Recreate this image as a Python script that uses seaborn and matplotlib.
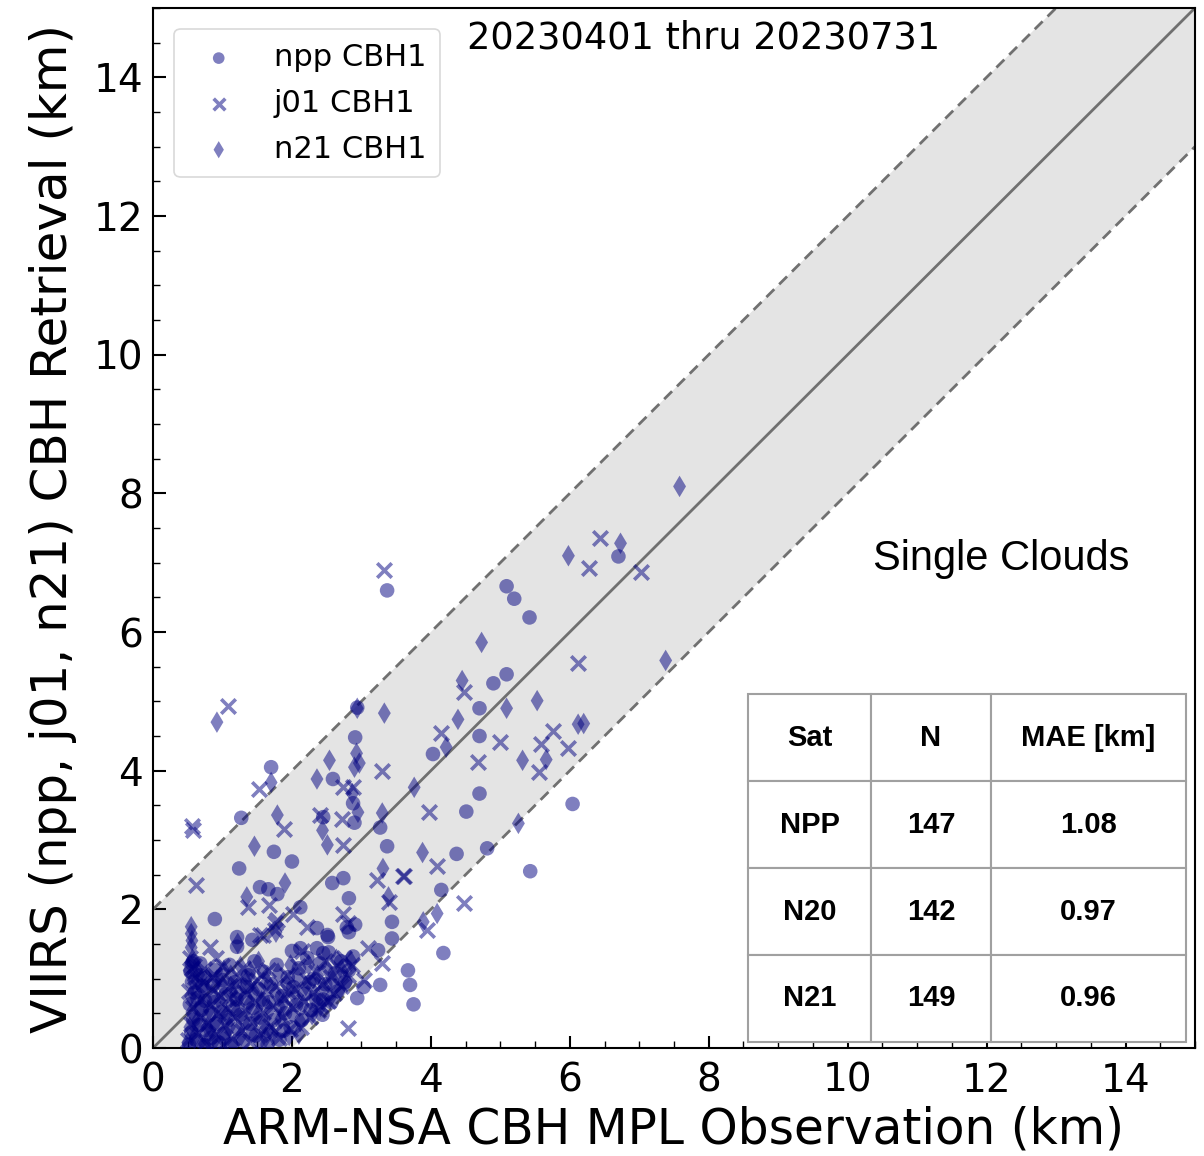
import numpy as np
import pandas as pd
import matplotlib
matplotlib.use("Agg")
import matplotlib.pyplot as plt
import seaborn as sns

# ---------------- data (km) ----------------
npp_x = [3.37, 5.09, 5.20, 5.42, 6.70, 4.90, 5.09, 4.70, 4.03, 4.70, 4.70, 4.51, 6.04, 3.37, 4.37,
         4.81, 5.43, 4.15, 3.27, 2.94, 2.91, 1.70, 1.27, 2.59, 2.88, 2.45, 2.90, 1.74, 2.00, 1.24,
         1.54, 1.66, 1.79, 2.12, 0.89, 2.58, 2.74, 2.82, 3.44, 3.44, 2.79, 2.91, 2.82, 2.36, 2.51,
         1.43, 1.21, 0.56, 0.68, 1.21, 2.52, 2.12, 2.36, 2.45, 3.24, 3.67, 3.70, 3.75, 4.18, 3.27,
         2.94, 3.03,
         0.52, 0.55, 0.58, 0.53, 0.60, 0.56, 0.62, 0.66, 0.70, 0.64, 0.73, 0.77, 0.71, 0.80, 0.84,
         0.88, 0.92, 0.95, 0.98, 1.02, 1.05, 1.08, 1.12, 1.15, 1.18, 1.22, 1.26, 1.30, 1.33, 1.37,
         1.40, 1.44, 1.48, 1.52, 1.55, 1.60, 1.63, 1.67, 1.70, 1.74, 1.78, 1.82, 1.86, 1.90, 1.94,
         1.98, 2.02, 2.06, 2.10, 2.14, 2.18, 2.22, 2.27, 2.31, 2.35, 2.40, 2.44, 2.48, 2.53, 2.57,
         2.62, 2.66, 2.71, 2.76, 2.82, 2.88, 0.54, 0.58, 0.68, 0.75, 0.86, 0.90, 1.00, 1.10, 1.20,
         1.35, 1.46, 1.58, 1.65, 1.88, 2.00, 2.25, 2.45]
npp_y = [6.60, 6.66, 6.48, 6.21, 7.09, 5.26, 5.39, 4.90, 4.24, 4.50, 3.67, 3.41, 3.52, 2.91, 2.80,
         2.88, 2.55, 2.28, 3.18, 4.91, 4.48, 4.05, 3.32, 3.88, 3.53, 3.33, 3.25, 2.83, 2.69, 2.59,
         2.32, 2.29, 2.22, 2.03, 1.86, 2.38, 2.45, 2.16, 1.82, 1.58, 1.74, 1.78, 1.67, 1.73, 1.63,
         1.56, 1.60, 1.22, 1.22, 1.46, 1.60, 1.44, 1.44, 1.37, 1.41, 1.12, 0.91, 0.63, 1.37, 0.91,
         0.72, 0.88,
         0.05, 0.22, 0.41, 0.63, 0.80, 0.95, 0.12, 0.33, 0.55, 0.72, 0.04, 0.26, 0.90, 0.47, 0.15,
         0.66, 0.35, 0.08, 0.52, 0.21, 0.78, 0.40, 0.06, 0.60, 0.95, 0.28, 0.48, 0.10, 0.72, 1.05,
         0.35, 0.58, 0.18, 0.85, 0.44, 1.10, 0.25, 0.66, 0.92, 0.40, 1.20, 0.12, 0.75, 0.50, 1.02,
         0.30, 0.88, 0.62, 1.15, 0.40, 0.78, 1.30, 0.55, 1.00, 0.70, 1.22, 0.48, 0.92, 1.38, 0.66,
         1.08, 0.82, 1.25, 0.95, 1.12, 1.32, 1.10, 1.25, 1.05, 0.68, 0.90, 1.12, 0.98, 1.20, 0.70,
         0.88, 1.25, 0.70, 0.05, 0.25, 1.40, 0.95, 0.70]

j01_x = [3.33, 6.43, 6.27, 7.02, 6.12, 4.48, 4.14, 4.99, 4.68, 5.59, 5.76, 5.98, 5.56, 3.98, 4.09,
         3.62, 4.48, 3.29, 1.08, 0.56, 0.57, 1.53, 0.62, 1.89, 1.37, 1.67, 2.02, 2.74, 2.88, 2.40,
         2.72, 2.74, 3.23, 3.60, 3.40, 2.74, 2.81, 2.22, 1.76, 1.54, 0.82, 0.91, 0.56, 0.85, 1.58,
         1.76, 1.79, 3.10, 3.30, 2.80, 3.95, 3.03,
         0.51, 0.55, 0.57, 0.52, 0.60, 0.63, 0.67, 0.69, 0.72, 0.76, 0.79, 0.83, 0.86, 0.90, 0.94,
         0.97, 1.01, 1.04, 1.07, 1.11, 1.14, 1.17, 1.21, 1.24, 1.28, 1.32, 1.36, 1.39, 1.43, 1.47,
         1.50, 1.54, 1.58, 1.62, 1.66, 1.69, 1.73, 1.77, 1.81, 1.85, 1.89, 1.93, 1.97, 2.01, 2.05,
         2.09, 2.13, 2.17, 2.21, 2.26, 2.30, 2.34, 2.38, 2.43, 2.47, 2.52, 2.56, 2.61, 2.65, 2.70,
         2.75, 2.80, 2.86, 0.53, 0.59, 0.65, 0.74, 0.81, 0.88, 0.99, 1.09, 1.19, 1.30, 1.41, 1.56,
         1.75, 1.95, 2.15, 2.40]
j01_y = [6.90, 7.35, 6.93, 6.86, 5.55, 5.13, 4.54, 4.42, 4.12, 4.38, 4.57, 4.32, 3.98, 3.40, 2.62,
         2.48, 2.09, 3.99, 4.93, 3.20, 3.15, 3.73, 2.35, 3.16, 2.03, 2.07, 1.94, 3.76, 3.76, 3.36,
         3.31, 2.93, 2.42, 2.48, 2.10, 1.94, 1.80, 1.74, 1.80, 1.63, 1.46, 1.30, 1.15, 1.02, 1.63,
         1.70, 1.84, 1.44, 1.22, 0.29, 1.70, 0.98,
         0.12, 0.35, 0.58, 0.82, 1.02, 0.20, 0.45, 0.70, 0.95, 0.10, 0.36, 0.62, 0.84, 0.22, 0.50,
         0.75, 0.05, 0.32, 0.58, 0.90, 0.15, 0.45, 0.70, 1.02, 0.25, 0.55, 0.80, 0.08, 0.38, 0.66,
         0.98, 0.20, 0.52, 0.84, 1.12, 0.32, 0.60, 0.90, 0.15, 0.45, 0.72, 1.05, 0.28, 0.58, 0.85,
         1.18, 0.30, 0.68, 0.98, 0.45, 0.80, 1.10, 0.55, 0.92, 1.25, 0.68, 1.02, 0.80, 1.18, 0.90,
         1.30, 1.05, 1.20, 1.30, 1.18, 0.88, 1.14, 0.02, 1.05, 1.18, 0.72, 0.92, 1.15, 0.90, 1.05,
         0.25, 0.82, 1.40, 0.62]

n21_x = [5.98, 6.73, 7.58, 7.38, 4.73, 4.45, 5.09, 5.53, 4.39, 4.22, 6.12, 6.20, 5.32, 5.66, 3.76,
         5.26, 3.88, 3.33, 2.94, 2.93, 2.90, 0.92, 1.70, 2.54, 2.36, 2.87, 2.95, 2.97, 1.79, 2.44,
         2.51, 3.30, 1.46, 1.90, 1.35, 0.55, 0.55, 0.56, 0.55, 3.31, 3.39, 1.77, 1.22, 3.89, 4.09,
         0.50, 0.53, 0.56, 0.54, 0.58, 0.61, 0.64, 0.68, 0.71, 0.74, 0.78, 0.81, 0.85, 0.89, 0.93,
         0.96, 1.00, 1.03, 1.06, 1.10, 1.13, 1.16, 1.20, 1.23, 1.27, 1.31, 1.34, 1.38, 1.42, 1.45,
         1.49, 1.53, 1.56, 1.60, 1.64, 1.68, 1.72, 1.76, 1.80, 1.84, 1.88, 1.92, 1.96, 2.00, 2.04,
         2.08, 2.12, 2.16, 2.20, 2.24, 2.29, 2.33, 2.37, 2.41, 2.46, 2.50, 2.55, 2.59, 2.64, 2.69,
         2.73, 2.79, 2.85, 0.52, 0.57, 0.66, 0.77, 0.83, 0.92, 1.02, 1.12, 1.26, 1.40, 1.52, 1.62,
         1.82, 1.98, 2.10]
n21_y = [7.10, 7.28, 8.10, 5.59, 5.85, 5.30, 4.90, 5.01, 4.74, 4.34, 4.67, 4.68, 4.15, 4.16, 3.76,
         3.24, 2.82, 4.83, 4.90, 4.25, 4.05, 4.70, 3.83, 4.15, 3.88, 3.67, 3.40, 4.11, 3.36, 3.14,
         2.93, 3.39, 2.91, 2.38, 2.18, 1.75, 1.65, 1.55, 1.45, 2.59, 2.18, 1.67, 1.51, 1.82, 1.94,
         0.08, 0.30, 0.52, 0.75, 0.98, 0.18, 0.40, 0.62, 0.85, 0.06, 0.30, 0.55, 0.78, 0.12, 0.42,
         0.68, 0.90, 0.15, 0.48, 0.30, 0.82, 0.05, 0.52, 0.78, 0.18, 0.40, 0.95, 0.62, 0.22, 0.82,
         0.45, 0.08, 0.68, 0.35, 0.96, 0.55, 0.20, 0.80, 1.08, 0.42, 0.65, 0.92, 0.18, 0.50, 0.75,
         1.02, 0.38, 0.62, 0.90, 1.20, 0.48, 0.78, 1.05, 0.60, 0.86, 1.15, 0.72, 0.98, 1.28, 0.85,
         1.10, 0.95, 1.25, 1.12, 1.28, 1.06, 1.02, 0.28, 0.98, 1.12, 1.05, 1.18, 1.10, 1.25, 0.15,
         0.60, 1.20, 0.20]

series_labels = ["npp CBH1", "j01 CBH1", "n21 CBH1"]
table_header = ["Sat", "N", "MAE [km]"]
table_sat = ["NPP", "N20", "N21"]
table_n = ["147", "142", "149"]
table_mae = ["1.08", "0.97", "0.96"]
date_text = "20230401 thru 20230731"
cloud_text = "Single Clouds"
x_ticks = [0, 2, 4, 6, 8, 10, 12, 14]
y_ticks = [0, 2, 4, 6, 8, 10, 12, 14]
band = 2.0

# ---------------- plot ----------------
sns.set_theme(style="white")
plt.rcParams["font.family"] = ["DejaVu Sans"]
plt.rcParams["text.color"] = "black"
plt.rcParams["axes.labelcolor"] = "black"
plt.rcParams["xtick.color"] = "black"
plt.rcParams["ytick.color"] = "black"

fig = plt.figure(figsize=(12.04, 11.56), dpi=100)
ax = fig.add_axes([0.1271, 0.0934, 0.8654, 0.8997])
ax.set_xlim(0, 15)
ax.set_ylim(0, 15)

line_x = np.array([0, 15])
ax.fill_between(line_x, line_x - band, line_x + band, color="#e4e4e4", zorder=0, linewidth=0)
ax.plot(line_x, line_x, color="#707070", lw=2, zorder=1)
ax.plot(line_x, line_x + band, color="#707070", lw=2, ls=(0, (4, 2.5)), zorder=1)
ax.plot(line_x, line_x - band, color="#707070", lw=2, ls=(0, (4, 2.5)), zorder=1)

df_npp = pd.DataFrame({"x": npp_x, "y": npp_y})
df_j01 = pd.DataFrame({"x": j01_x, "y": j01_y})
df_n21 = pd.DataFrame({"x": n21_x, "y": n21_y})

sns.scatterplot(data=df_npp, x="x", y="y", ax=ax, marker="o", color="navy", alpha=0.5,
                s=110, edgecolor="none", label=series_labels[0], zorder=3)
sns.scatterplot(data=df_j01, x="x", y="y", ax=ax, marker="x", color="navy", alpha=0.5,
                s=110, linewidth=2.6, label=series_labels[1], zorder=3)
sns.scatterplot(data=df_n21, x="x", y="y", ax=ax, marker="d", color="navy", alpha=0.5,
                s=120, edgecolor="none", label=series_labels[2], zorder=3)

ax.set_xticks(x_ticks)
ax.set_yticks(y_ticks)
ax.xaxis.set_minor_locator(matplotlib.ticker.MultipleLocator(0.5))
ax.yaxis.set_minor_locator(matplotlib.ticker.MultipleLocator(0.5))
ax.tick_params(which="major", direction="in", length=9, width=1.5, labelsize=28, colors="black",
               bottom=True, left=True)
ax.tick_params(which="minor", direction="in", length=5, width=1.0, bottom=True, left=True)
ax.tick_params(axis="x", pad=10)
ax.tick_params(axis="y", pad=7)
for sp in ax.spines.values():
    sp.set_color("black")
    sp.set_linewidth(1.5)

ax.set_xlabel("ARM-NSA CBH MPL Observation (km)", fontsize=35, labelpad=4, color="black")
ax.set_ylabel("VIIRS (npp, j01, n21) CBH Retrieval (km)", fontsize=36, labelpad=12, color="black")

leg = ax.legend(loc="upper left", fontsize=22, frameon=True, borderpad=0.45, labelspacing=0.55,
                handletextpad=0.8, borderaxespad=0.7, fancybox=True, markerscale=0.8)
leg.get_frame().set_edgecolor("#d0d0d0")
leg.get_frame().set_linewidth(1.2)
for t in leg.get_texts():
    t.set_color("black")

ax.text(4.52, 14.57, date_text, fontsize=26.5, ha="left", va="center", color="black")
ax.text(10.36, 7.06, cloud_text, fontsize=30, ha="left", va="center",
        family="Liberation Sans", color="black")

cell_text = [[s, n, m] for s, n, m in zip(table_sat, table_n, table_mae)]
tbl = ax.table(cellText=cell_text, colLabels=table_header, cellLoc="center",
               colWidths=[0.281, 0.274, 0.445], bbox=[0.571, 0.006, 0.420, 0.334], zorder=5)
tbl.auto_set_font_size(False)
for (r, c), cell in tbl.get_celld().items():
    cell.set_edgecolor("#a0a0a0")
    cell.set_linewidth(1.5)
    cell.set_facecolor("white")
    cell.get_text().set_fontsize(21)
    cell.get_text().set_fontweight("bold")
    cell.get_text().set_fontfamily("Liberation Sans")
    cell.get_text().set_color("black")

fig.savefig("out.png", dpi=100, facecolor="white")
